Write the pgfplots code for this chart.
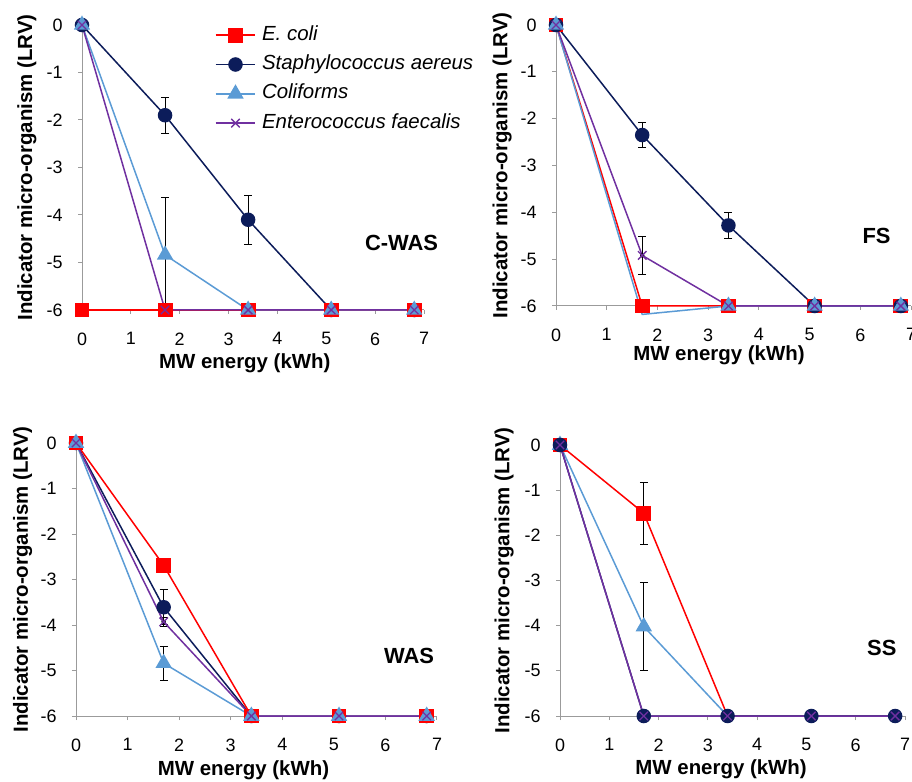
\documentclass[border=0pt]{standalone}
\usepackage{pgfplots}
\pgfplotsset{compat=1.18}
\usepackage{fontspec}
\setmainfont{Liberation Sans}
\definecolor{ecoli}{RGB}{255,0,0}
\definecolor{staph}{RGB}{12,28,90}
\definecolor{colif}{RGB}{91,155,213}
\definecolor{entero}{RGB}{112,48,160}
\definecolor{axgray}{RGB}{155,155,155}

\tikzset{plab/.style={font=\bfseries\fontsize{22}{24}\selectfont}}
\pgfplotsset{
  panel/.style={
    scale only axis, clip=false,
    xmin=0, xmax=7, ymin=-6, ymax=0,
    axis x line=bottom, axis y line=left,
    axis line style={axgray, line width=1bp, -},
    xtick={0,...,7}, ytick={-6,...,0},
    tick style={axgray, line width=1bp},
    tick align=outside, major tick length=4bp,
    /pgf/number format/assume math mode=true,
    ticklabel style={font=\fontsize{18}{20}\selectfont},
    xticklabel style={yshift=-15bp},
    yticklabel style={xshift=-12bp},
    label style={font=\bfseries\fontsize{20.5}{23}\selectfont},
    xlabel={MW energy (kWh)},
    ylabel={Indicator micro-organism (LRV)},
  },
  ec/.style={ecoli, line width=1.5bp, mark=square*, mark size=6.7bp, mark options={ecoli, solid}},
  st/.style={staph, line width=1.5bp, mark=*, mark size=6.5bp, mark options={staph, solid}},
  co/.style={colif, line width=1.5bp, mark=triangle*, mark size=8bp, mark options={colif, solid}},
  en/.style={entero, line width=1.5bp, mark=x, mark size=6bp, mark options={entero, solid, line width=1.3bp}},
  errb/.style={forget plot, only marks, mark=none,
    error bars/.cd, y dir=both, y explicit, error mark=-,
    error bar style={black, line width=1bp},
    error mark options={black, rotate=90, mark size=4bp, line width=1bp}},
}

\begin{document}
\begin{tikzpicture}
% ---------- Panel 1: C-WAS ----------
\begin{axis}[panel, at={(82bp,472bp)}, anchor=south west, width=342bp, height=285bp,
  xlabel style={at={(axis description cs:0.476,-0.186)}, anchor=center},
  ylabel style={at={(axis description cs:-0.161,0.5)}, anchor=center},
  legend style={draw=none, fill=none, inner sep=0pt, at={(axis description cs:0.388,1.0035)}, anchor=north west,
    font=\itshape\fontsize{20.5}{22}\selectfont, row sep=7.3bp,
    nodes={text height=14bp, text depth=4bp, inner sep=2bp},
    /tikz/every odd column/.append style={column sep=4bp}},
  legend cell align=left,
  legend image code/.code={\draw[mark repeat=2,mark phase=2,#1] plot coordinates {(0cm,0cm)(0.7cm,0cm)(1.4cm,0cm)};}]
\addplot[errb] coordinates {(1.7,-1.9) +- (0,0.38) (3.4,-4.1) +- (0,0.52)};
\addplot[errb] coordinates {(1.7,-4.84) +- (0,1.2)};
\addplot[st, forget plot] coordinates {(0,0)(1.7,-1.9)(3.4,-4.1)(5.1,-6)(6.8,-6)};
\addplot[ec, forget plot] coordinates {(0,-6)(1.7,-6)(3.4,-6)(5.1,-6)(6.8,-6)};
\addplot[co, forget plot] coordinates {(0,0)(1.7,-4.84)(3.4,-6)(5.1,-6)(6.8,-6)};
\addplot[en, forget plot] coordinates {(0,0)(1.7,-6)(3.4,-6)(5.1,-6)(6.8,-6)};
\addlegendimage{ec}\addlegendentry{E. coli}
\addlegendimage{st}\addlegendentry{Staphylococcus aereus}
\addlegendimage{co}\addlegendentry{Coliforms}
\addlegendimage{en}\addlegendentry{Enterococcus faecalis}
\node[plab] at (axis cs:6.54,-4.59) {C-WAS};
\end{axis}
% ---------- Panel 2: FS ----------
\begin{axis}[panel, at={(556bp,476bp)}, anchor=south west, width=355bp, height=281bp,
  xlabel style={at={(axis description cs:0.459,-0.174)}, anchor=center},
  ylabel style={at={(axis description cs:-0.152,0.5)}, anchor=center}]
\addplot[errb] coordinates {(1.7,-2.35) +- (0,0.27) (3.4,-4.28) +- (0,0.27)};
\addplot[errb] coordinates {(1.7,-4.92) +- (0,0.41)};
\addplot[ec] coordinates {(0,0)(1.7,-6)(3.4,-6)(5.1,-6)(6.8,-6)};
\addplot[st] coordinates {(0,0)(1.7,-2.35)(3.4,-4.28)(5.1,-6)(6.8,-6)};
\addplot[co, mark indices={1,3,4,5}] coordinates {(0,0)(1.7,-6.18)(3.4,-6)(5.1,-6)(6.8,-6)};
\addplot[en] coordinates {(0,0)(1.7,-4.92)(3.4,-6)(5.1,-6)(6.8,-6)};
\node[plab] at (axis cs:6.32,-4.51) {FS};
\end{axis}
% ---------- Panel 3: WAS ----------
\begin{axis}[panel, at={(76bp,66bp)}, anchor=south west, width=361bp, height=273bp,
  xlabel style={at={(axis description cs:0.464,-0.198)}, anchor=center},
  ylabel style={at={(axis description cs:-0.148,0.5)}, anchor=center}]
\addplot[errb] coordinates {(1.7,-2.69) +- (0,0.14)};
\addplot[errb] coordinates {(1.7,-3.61) +- (0,0.38)};
\addplot[errb] coordinates {(1.7,-4.84) +- (0,0.37)};
\addplot[errb] coordinates {(1.7,-3.93) +- (0,0.1)};
\addplot[st] coordinates {(0,0)(1.7,-3.61)(3.4,-6)(5.1,-6)(6.8,-6)};
\addplot[ec] coordinates {(0,0)(1.7,-2.69)(3.4,-6)(5.1,-6)(6.8,-6)};
\addplot[co] coordinates {(0,0)(1.7,-4.84)(3.4,-6)(5.1,-6)(6.8,-6)};
\addplot[en] coordinates {(0,0)(1.7,-3.93)(3.4,-6)(5.1,-6)(6.8,-6)};
\node[plab] at (axis cs:6.46,-4.68) {WAS};
\end{axis}
% ---------- Panel 4: SS ----------
\begin{axis}[panel, at={(560bp,66bp)}, anchor=south west, width=345bp, height=271bp,
  xlabel style={at={(axis description cs:0.467,-0.196)}, anchor=center},
  ylabel style={at={(axis description cs:-0.162,0.5)}, anchor=center}]
\addplot[errb] coordinates {(1.7,-1.51) +- (0,0.69)};
\addplot[errb] coordinates {(1.7,-4.02) +- (0,0.97)};
\addplot[ec, mark indices={1,2}] coordinates {(0,0)(1.7,-1.51)(3.4,-6)(5.1,-6)(6.8,-6)};
\addplot[co, mark indices={1,2}] coordinates {(0,0)(1.7,-4.02)(3.4,-6)(5.1,-6)(6.8,-6)};
\addplot[st] coordinates {(0,0)(1.7,-6)(3.4,-6)(5.1,-6)(6.8,-6)};
\addplot[en] coordinates {(0,0)(1.7,-6)(3.4,-6)(5.1,-6)(6.8,-6)};
\node[plab] at (axis cs:6.53,-4.49) {SS};
\end{axis}
\pgfresetboundingbox
\path[use as bounding box] (0,0) rectangle (912bp,782bp);
\end{tikzpicture}
\end{document}
